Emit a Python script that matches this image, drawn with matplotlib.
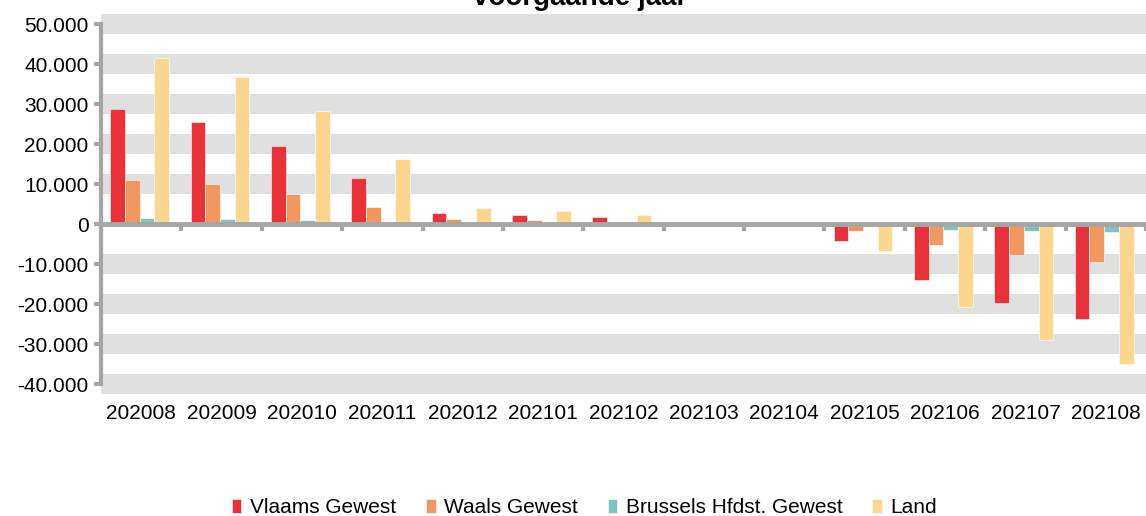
import numpy as np
import matplotlib
matplotlib.use("Agg")
import matplotlib.pyplot as plt
from matplotlib.ticker import FuncFormatter

categories = ["202008", "202009", "202010", "202011", "202012", "202101", "202102",
              "202103", "202104", "202105", "202106", "202107", "202108"]
vlaams = [28700, 25400, 19500, 11500, 2750, 2300, 1800, 400, 0, -4200, -13900, -19700, -23700]
waals = [11000, 10000, 7500, 4200, 1250, 1000, 300, 100, 0, -1700, -5300, -7800, -9400]
brussel = [1500, 1200, 1000, 200, 100, 50, 50, 50, 0, -300, -1500, -1800, -2100]
land = [41400, 36750, 28250, 16250, 4100, 3250, 2250, 500, 0, -6700, -20750, -29100, -34900]
series_names = ["Vlaams Gewest", "Waals Gewest", "Brussels Hfdst. Gewest", "Land"]
colors = ["#E8323A", "#F19760", "#7FC4C1", "#FDD78F"]
yticks = [-40000, -30000, -20000, -10000, 0, 10000, 20000, 30000, 40000, 50000]

plt.rcParams['font.family'] = ['Liberation Sans', 'DejaVu Sans']

fig = plt.figure(figsize=(11.46, 5.16), dpi=100)
ax = fig.add_axes([101/1146, 1 - 394/516, 1 - 101/1146, (394 - 14)/516])

x = np.arange(len(categories))
w = 0.183
data = [vlaams, waals, brussel, land]
for i, (vals, c, name) in enumerate(zip(data, colors, series_names)):
    ax.bar(x + (i - 1.5) * w - 0.02, vals, width=w, color=c, label=name,
           edgecolor="#FFFFFF", linewidth=0.4, zorder=3)

# striped background bands centred on the ticks
for t in yticks:
    if t != 0:
        ax.axhspan(t - 2500, t + 2500, color="#E0E0E0", lw=0, zorder=0)

ax.set_xlim(-0.5, len(categories) - 0.5)
ax.set_ylim(-42500, 52500)
ax.set_yticks(yticks)
ax.yaxis.set_major_formatter(FuncFormatter(lambda v, p: f"{int(v):,}".replace(",", ".")))
ax.tick_params(axis='y', labelsize=15, length=5, width=3, color="#A6A6A6", pad=4, direction='out')

for s in ["top", "right"]:
    ax.spines[s].set_visible(False)
ax.spines["left"].set_color("#A6A6A6")
ax.spines["left"].set_linewidth(3)
ax.spines["left"].set_bounds(-40000, 50000)
ax.spines["bottom"].set_position(('data', 0))
ax.spines["bottom"].set_color("#A6A6A6")
ax.spines["bottom"].set_linewidth(3.5)
ax.spines["bottom"].set_zorder(4)

ax.set_xticks(x)
ax.set_xticklabels([])
ax.tick_params(axis='x', which='major', length=0)
ax.set_xticks(np.arange(-0.5, len(categories), 1), minor=True)
ax.tick_params(axis='x', which='minor', length=5, width=3, color="#A6A6A6", direction='out')

sec = ax.secondary_xaxis(0.0)
sec.set_xticks(x)
sec.set_xticklabels(categories, fontsize=15)
sec.tick_params(length=0, pad=7)
sec.spines["bottom"].set_visible(False)

fig.text(580/1146, 1 - 5/516, "voorgaande jaar", ha="center", va="baseline",
         fontsize=20, fontweight="bold")

handles, labels = ax.get_legend_handles_labels()
fig.legend(handles, labels, loc="center", bbox_to_anchor=(0.51, 0.016),
           ncol=4, frameon=False, fontsize=15, handlelength=0.45, handleheight=0.7,
           handletextpad=0.4, columnspacing=1.45)

fig.savefig("out.png", dpi=100)
